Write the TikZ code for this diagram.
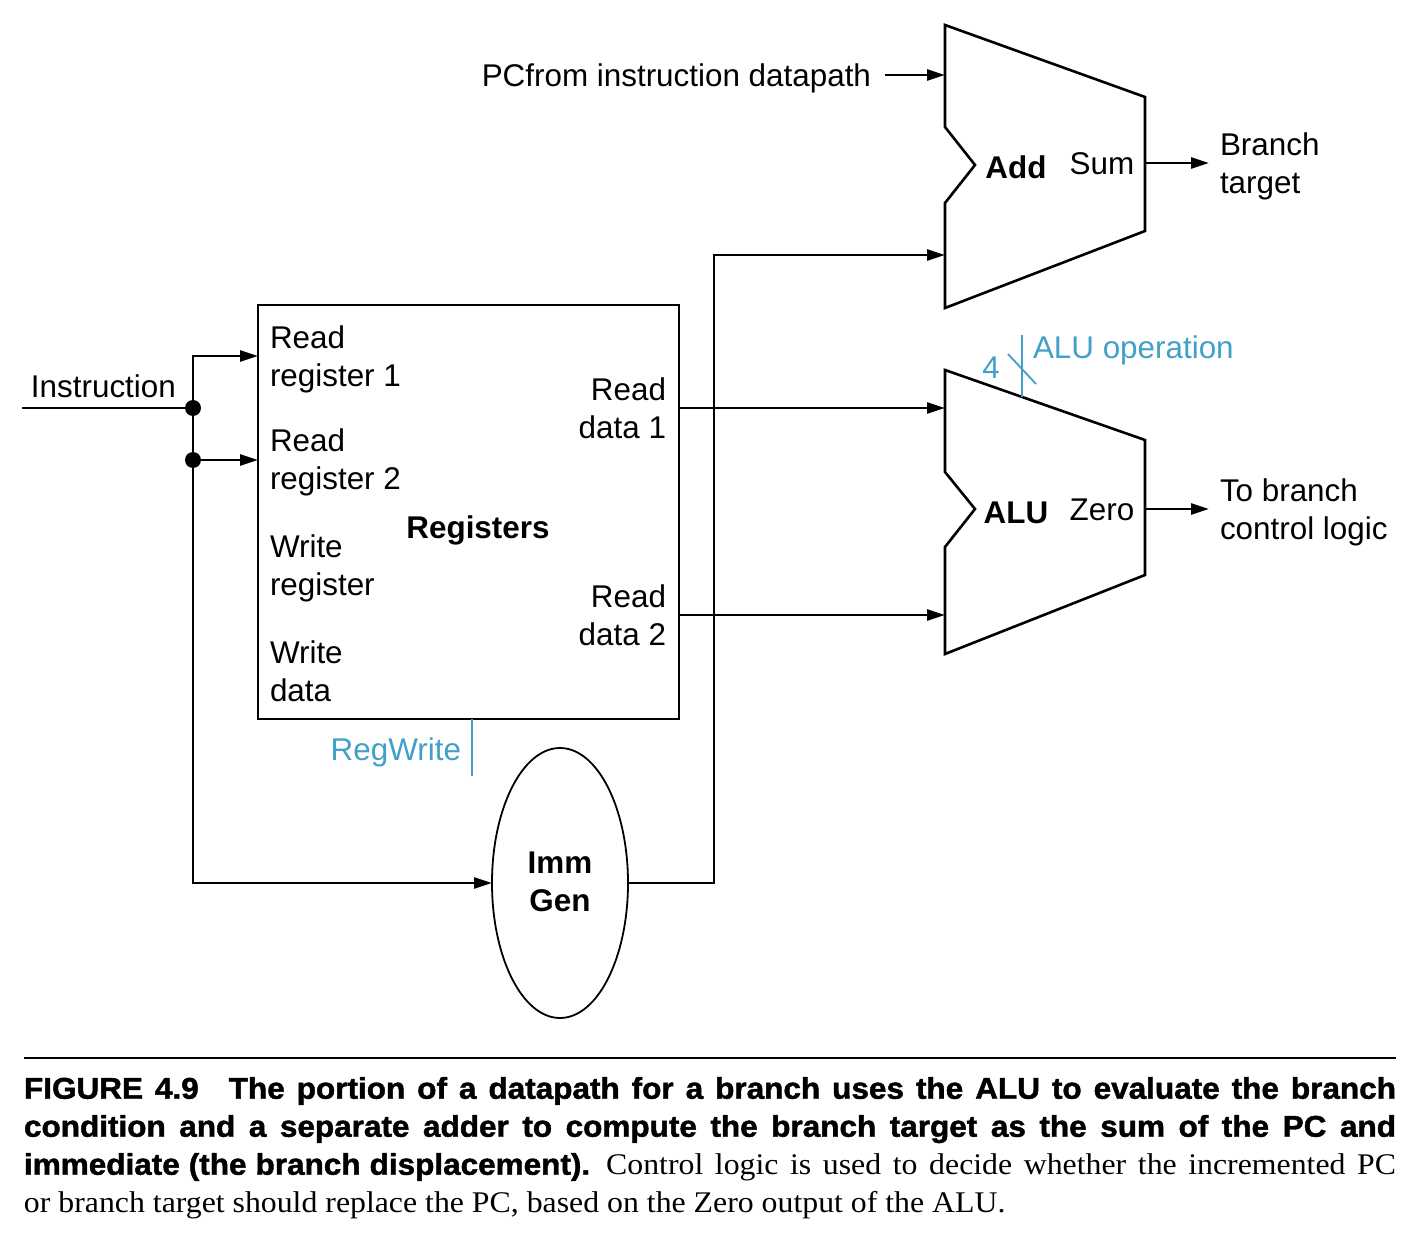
\documentclass[tikz,border=0pt]{standalone}
\usepackage{fontspec}
\setmainfont{Liberation Sans}
\newfontfamily\capsans[FakeStretch=1.05,FakeBold=1.5,WordSpace={0.8,0.5,0.5}]{Liberation Sans}
\newfontfamily\capserif[FakeStretch=1.06]{Liberation Serif}
\usepackage{tikz}
\usetikzlibrary{shapes.geometric,arrows.meta}
\definecolor{ctrlblue}{RGB}{66,160,200}

\begin{document}
\begin{tikzpicture}[x=0.5pt, y=-0.5pt, outer sep=0pt, font=\fontsize{15.7}{19}\selectfont]

\tikzstyle{wire}=[line width=1.3pt, -{Triangle[length=9pt,width=5.5pt]}]
\tikzstyle{plain}=[line width=1.3pt]
\tikzstyle{unit}=[draw, line width=1.3pt, line join=miter]
\tikzstyle{ctrl}=[draw=ctrlblue, line width=0.9pt]
\tikzstyle{lbl}=[inner sep=0pt]
\tikzstyle{dot}=[circle, fill, inner sep=0pt, minimum size=8pt]

\useasboundingbox (0,0) rectangle (1409,1235);

% register file and immediate generator
\node[draw, line width=0.8pt, minimum width=210.5pt, minimum height=207pt] (regs) at (468.5,512) {};
\node[draw, ellipse, line width=0.9pt, minimum width=68pt, minimum height=135pt, inner sep=0pt] (immgen) at (560,883) {};
\node[lbl, font=\fontsize{15.7}{19}\selectfont\bfseries, align=center] (immtxt) at (560,882) {Imm\\Gen};

\node[lbl, anchor=west, align=left] (rr1txt) at (270,359) {Read\\register 1};
\node[lbl, anchor=west, align=left] (rr2txt) at (270,462) {Read\\register 2};
\node[lbl, anchor=west, align=left] (wrtxt) at (270,568) {Write\\register};
\node[lbl, anchor=west, align=left] (wdtxt) at (270,671) {Write\\data};
\node[lbl, font=\fontsize{15.7}{19}\selectfont\bfseries] (regtxt) at (478,530) {Registers};
\node[lbl, anchor=east, align=right] (rd1txt) at (666,408) {Read\\data 1};
\node[lbl, anchor=east, align=right] (rd2txt) at (666,615) {Read\\data 2};

% adder and ALU
\draw[unit] (945,25) -- (1145,97) -- (1145,231) -- (945,308) -- (945,203) -- (975,165) -- (945,127) -- cycle;
\draw[unit] (945,370) -- (1145,440) -- (1145,575) -- (945,654) -- (945,547) -- (975,509) -- (945,472) -- cycle;
\node[lbl, font=\fontsize{15.7}{19}\selectfont\bfseries] (addtxt) at (1016,167) {Add};
\node[lbl] (sumtxt) at (1102,164) {Sum};
\node[lbl, font=\fontsize{15.7}{19}\selectfont\bfseries] (alutxt) at (1016,513) {ALU};
\node[lbl] (zerotxt) at (1102,510) {Zero};

\coordinate (add-in1) at (945,75); \coordinate (add-in2) at (945,255); \coordinate (add-out) at (1145,163);
\coordinate (alu-in1) at (945,408); \coordinate (alu-in2) at (945,615); \coordinate (alu-out) at (1145,509);
\coordinate (alu-op) at (1022,397);

% outside labels
\node[lbl, anchor=east] (pctxt) at (871,78) {PCfrom instruction datapath};
\node[lbl, anchor=west, align=left] (bttxt) at (1220,166) {Branch\\target};
\node[lbl, anchor=west, align=left] (tbtxt) at (1220,512) {To branch\\control logic};
\node[lbl, anchor=west] (instrtxt) at (31,386) {Instruction};
\node[lbl, anchor=east, text=ctrlblue] (rwtxt) at (461,752) {RegWrite};
\node[lbl, text=ctrlblue] (optxt) at (1033,350) [anchor=west] {ALU operation};
\node[lbl, text=ctrlblue] (widthtxt) at (991,368) {4};

% wires
\coordinate (instr) at (22,408);
\node[dot] (j1) at (193,408) {}; \node[dot] (j2) at (193,460) {};
\coordinate (rr1) at (258,356); \coordinate (rr2) at (258,460);
\draw[plain] (instr) -- (j1);
\draw[wire] (j1) |- (rr1);
\draw[wire] (j1) -- (j2) -- (rr2);
\draw[wire] (j2) |- (immgen.west);
\draw[wire] (rd1txt.east -| regs.east) -- (alu-in1);
\draw[wire] (rd2txt.east -| regs.east) -- (alu-in2);
\coordinate (bend) at (714,255);
\draw[wire] (immgen.east) -| (bend) -- (add-in2);
\coordinate (pcsrc) at (885,75);
\draw[wire] (pcsrc) -- (add-in1);
\coordinate (btgt) at (1209,163); \coordinate (tobr) at (1209,509);
\draw[wire] (add-out) -- (btgt);
\draw[wire] (alu-out) -- (tobr);

% control lines
\coordinate (rw) at (472,776);
\draw[ctrl] (rw) -- (rw |- regs.south);
\draw[ctrl] (alu-op) -- (1022,335);
\draw[ctrl] (1008,354) -- (1036,384);

% caption
\draw[line width=1pt] (24,1058) -- (1396,1058);
\node[lbl, anchor=north west, text width=686pt, align=justify, font=\fontsize{15}{19}\selectfont] (caption) at (24,1077)
{\capsans\bfseries FIGURE 4.9\quad The portion of a datapath for a branch uses the ALU to evaluate the branch\linebreak
condition and a separate adder to compute the branch target as the sum of the PC and\linebreak
immediate (the branch displacement). \capserif\mdseries Control logic is used to decide whether the incremented PC\linebreak
or branch target should replace the PC, based on the Zero output of the ALU.};

\end{tikzpicture}
\end{document}
